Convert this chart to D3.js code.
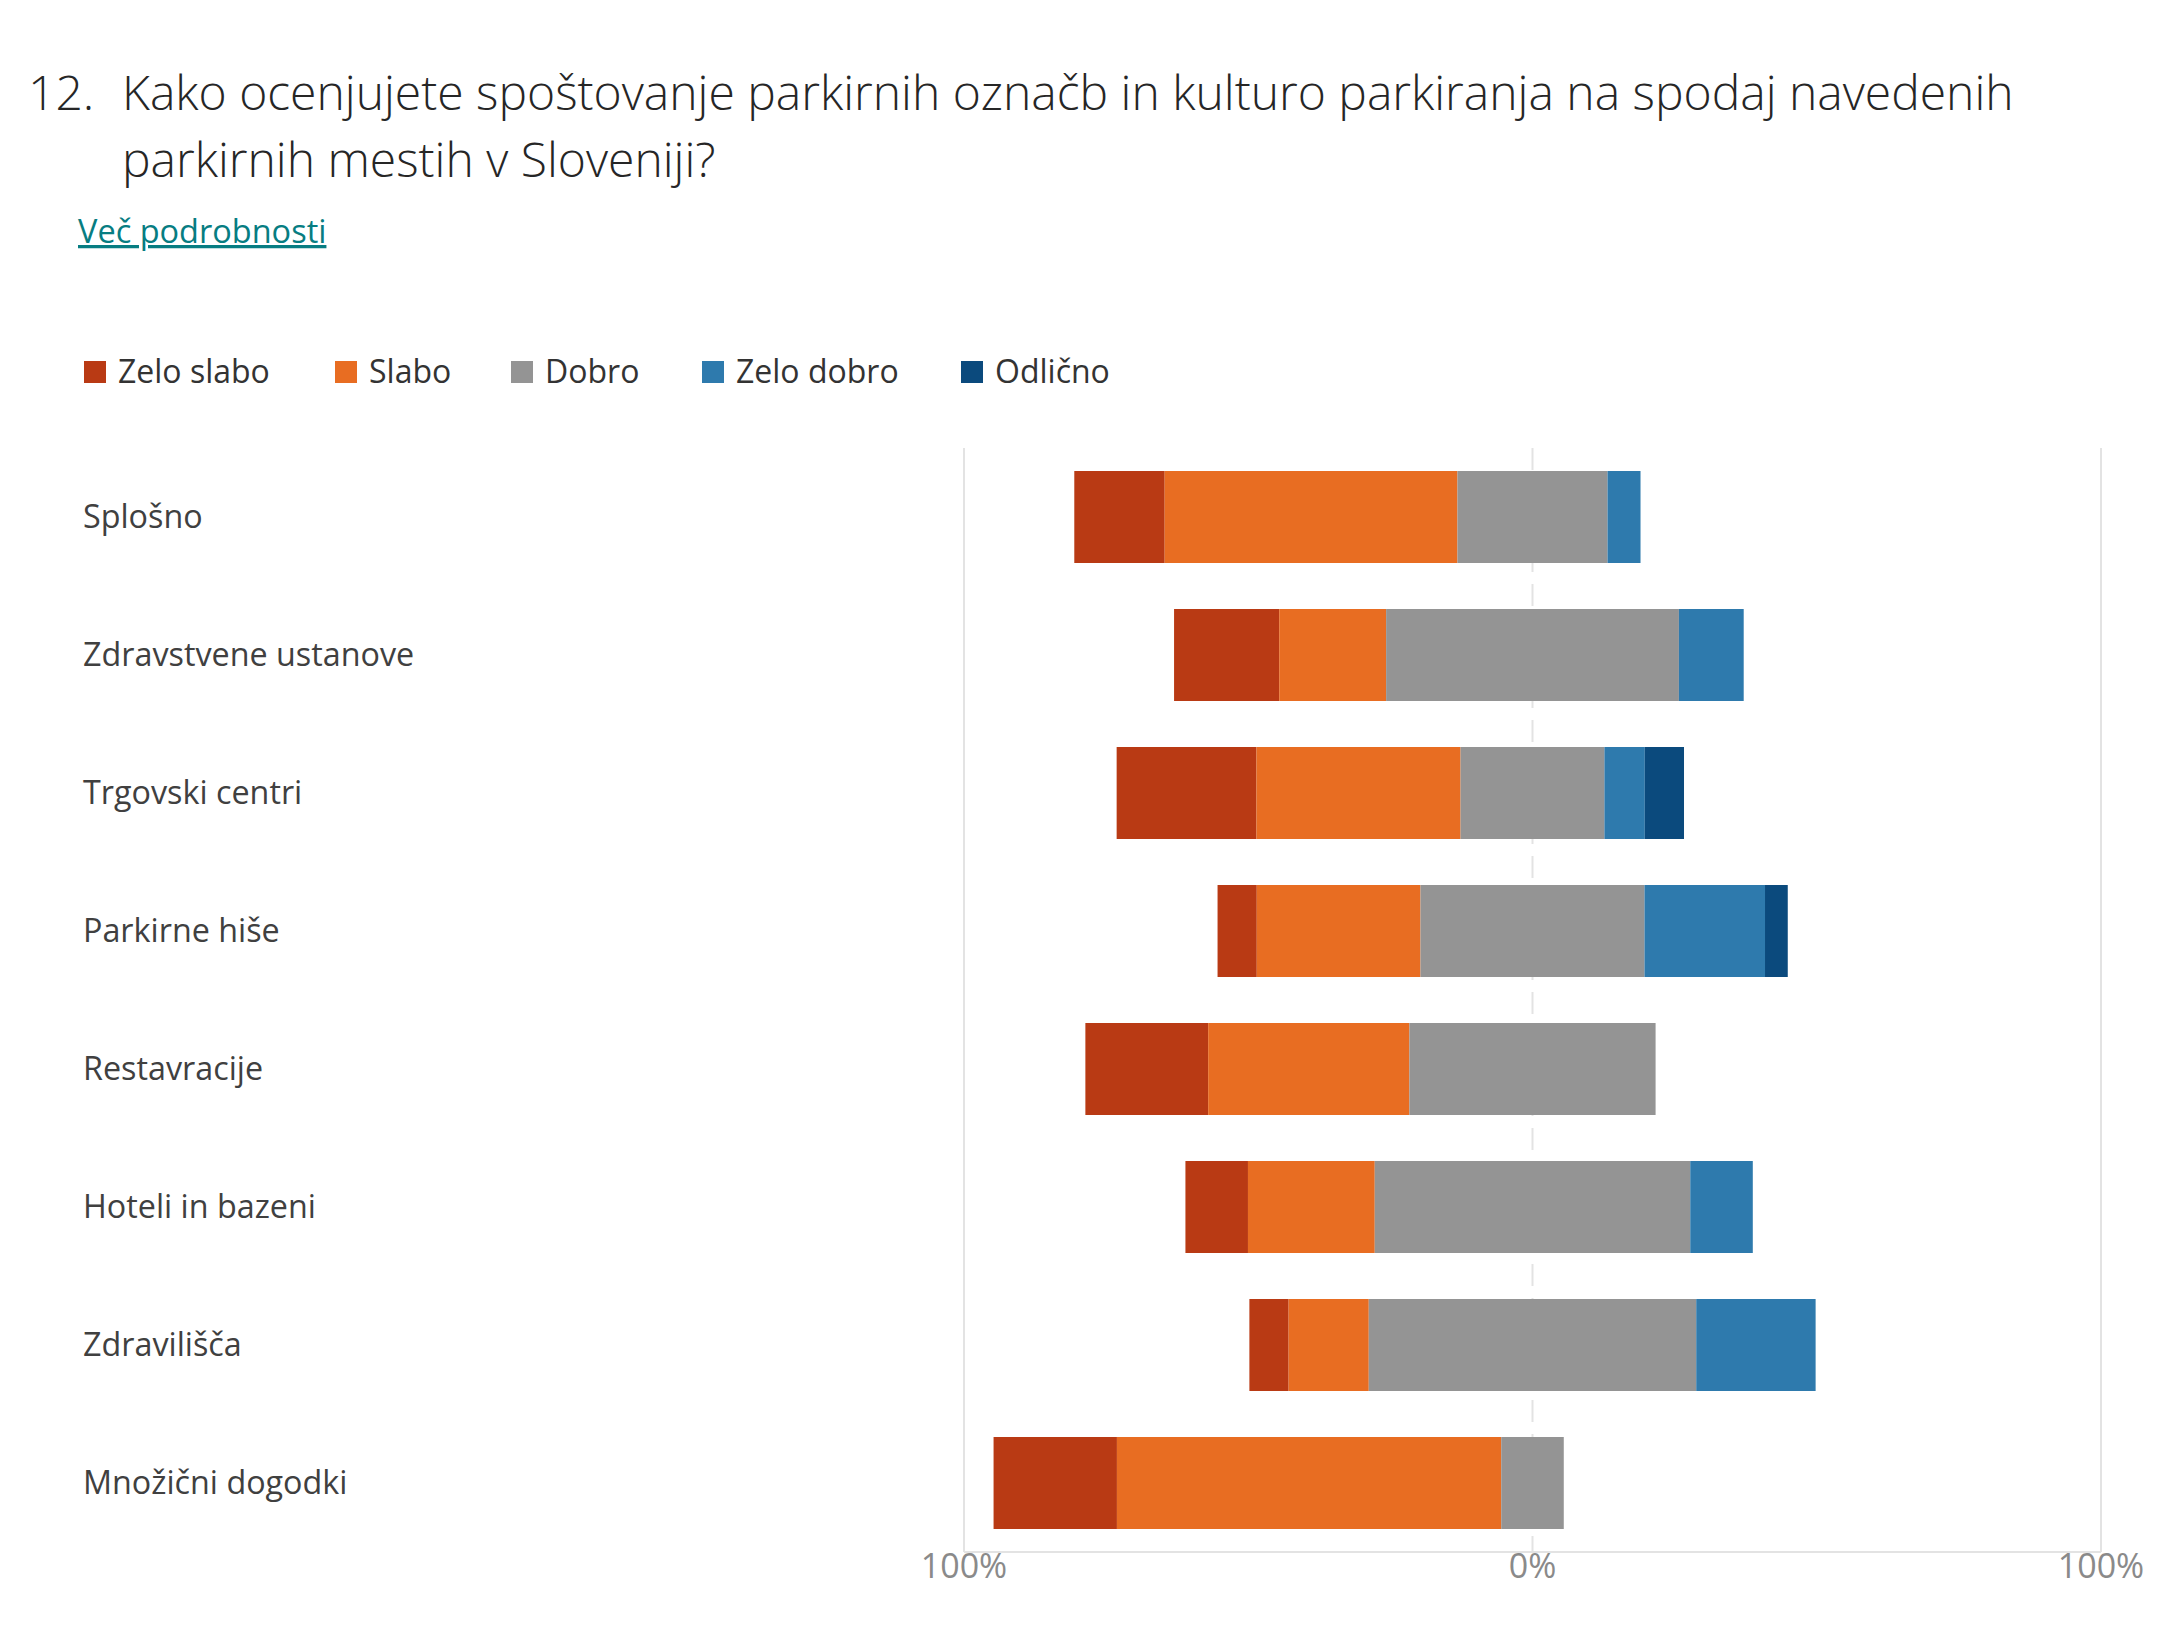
<!DOCTYPE html>
<html>
<head>
<meta charset="utf-8">
<script src="https://cdn.jsdelivr.net/npm/d3@7"></script>
<style>
  body { margin: 0; background: #fff; }
  svg { display: block; font-family: "Open Sans", "Noto Sans", sans-serif; }
</style>
</head>
<body>
<svg id="chart"></svg>
<script>
// categories (top to bottom)
const categories = ["Splošno", "Zdravstvene ustanove", "Trgovski centri", "Parkirne hiše",
  "Restavracije", "Hoteli in bazeni", "Zdravilišča", "Množični dogodki"];

// answer levels, worst to best
const levels = ["Zelo slabo", "Slabo", "Dobro", "Zelo dobro", "Odlično"];
const colors = ["#b93a14", "#e86d22", "#949494", "#2e7aad", "#0b4a7d"];

// percentages
const zeloSlabo = [15.9, 18.5, 24.6, 6.9, 21.6, 11.0, 6.9, 21.7];
const slabo     = [51.5, 18.8, 35.9, 28.8, 35.4, 22.3, 14.1, 67.6];
const dobro     = [26.4, 51.5, 25.3, 39.4, 43.3, 55.5, 57.6, 11.0];
const zeloDobro = [5.8, 11.4, 7.1, 21.2, 0, 11.0, 21.0, 0];
const odlicno   = [0, 0, 6.9, 4.0, 0, 0, 0, 0];

const ticks = [-100, 0, 100];
const tickLabels = ["100%", "0%", "100%"];

const W = 2160, H = 1640;
const svg = d3.select("#chart").attr("width", W).attr("height", H);

// title
const title = svg.append("text").attr("fill", "#262626").style("font-size", "48px").style("font-weight", 300);
title.append("tspan").attr("x", 28).attr("y", 110).text("12.");
title.append("tspan").attr("x", 122).attr("y", 110)
  .text("Kako ocenjujete spoštovanje parkirnih označb in kulturo parkiranja na spodaj navedenih");
title.append("tspan").attr("x", 122).attr("y", 177).text("parkirnih mestih v Sloveniji?");

svg.append("text")
  .attr("x", 78).attr("y", 243)
  .attr("fill", "#077d82")
  .style("font-size", "32.5px")
  .style("text-decoration", "underline")
  .text("Več podrobnosti");

// legend
const legendX = [84, 335, 511, 702, 961];
const legend = svg.append("g");
levels.forEach((name, i) => {
  legend.append("rect")
    .attr("x", legendX[i]).attr("y", 361)
    .attr("width", 22).attr("height", 22)
    .attr("fill", colors[i]);
  legend.append("text")
    .attr("x", legendX[i] + 34).attr("y", 383)
    .attr("fill", "#333")
    .style("font-size", "32px")
    .text(name);
});

// scales
const x = d3.scaleLinear().domain([-100, 100]).range([964, 2101]);
const y = d3.scaleBand().domain(categories).range([448, 1552]).paddingInner(1 / 3).paddingOuter(1 / 6);

// grid
const grid = svg.append("g");
grid.selectAll("line.v").data(ticks).join("line")
  .attr("x1", d => x(d)).attr("x2", d => x(d))
  .attr("y1", 448).attr("y2", 1552)
  .attr("stroke", "#e3e3e3").attr("stroke-width", 2)
  .attr("stroke-dasharray", d => d === 0 ? "22,12" : null);
grid.append("line")
  .attr("x1", x(-100)).attr("x2", x(100))
  .attr("y1", 1552).attr("y2", 1552)
  .attr("stroke", "#e3e3e3").attr("stroke-width", 2);

svg.append("g").selectAll("text").data(ticks).join("text")
  .attr("x", d => x(d)).attr("y", 1578)
  .attr("text-anchor", "middle")
  .attr("fill", "#8a8a8a")
  .style("font-size", "34px")
  .text((d, i) => tickLabels[i]);

// rows: stack centred on the middle of "Dobro"
const series = [zeloSlabo, slabo, dobro, zeloDobro, odlicno];
const rows = categories.map((c, r) => {
  let start = -(zeloSlabo[r] + slabo[r] + dobro[r] / 2);
  return series.map((s, k) => {
    const seg = { cat: c, k, x0: start, x1: start + s[r] };
    start += s[r];
    return seg;
  }).filter(d => d.x1 > d.x0);
});

svg.append("g").selectAll("rect").data(rows.flat()).join("rect")
  .attr("x", d => x(d.x0))
  .attr("width", d => x(d.x1) - x(d.x0))
  .attr("y", d => y(d.cat))
  .attr("height", y.bandwidth())
  .attr("fill", d => colors[d.k]);

svg.append("g").selectAll("text").data(categories).join("text")
  .attr("x", 83)
  .attr("y", d => y(d) + y.bandwidth() / 2)
  .attr("dy", "0.35em")
  .attr("fill", "#404040")
  .style("font-size", "32.3px")
  .text(d => d);
</script>
</body>
</html>
